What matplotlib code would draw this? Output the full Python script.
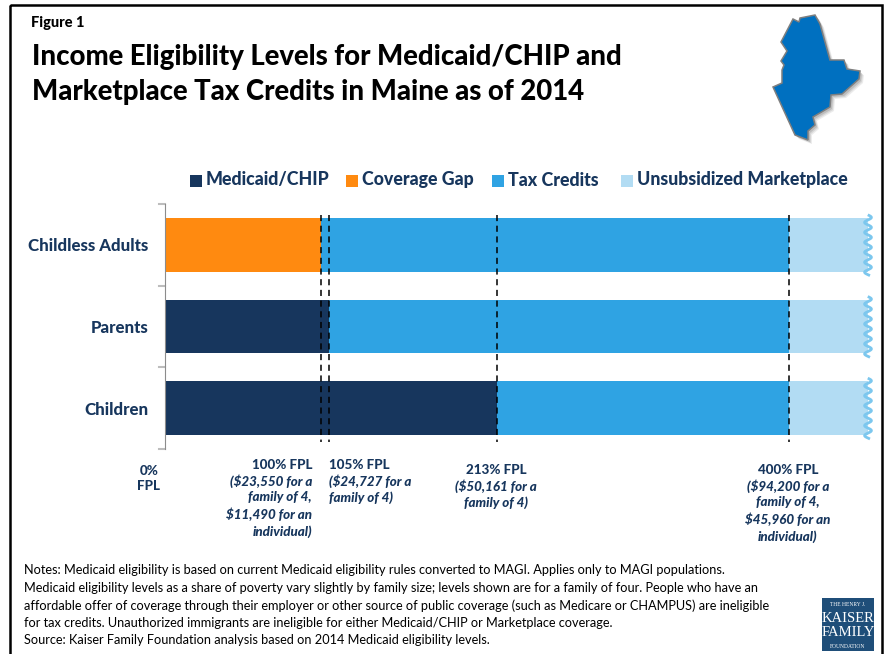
import numpy as np
import matplotlib
matplotlib.use('Agg')
import matplotlib.pyplot as plt
from matplotlib.patches import Polygon, Rectangle

plt.rcParams['font.family'] = ['Lato', 'DejaVu Sans']

W, H = 884, 654
NAVY = '#17365d'
HEAVY = 900

categories = ['Childless Adults', 'Parents', 'Children']
medicaid = [0, 105, 213]
gap = [100, 0, 0]
tax_credits = [300, 295, 187]
unsubsidized = [51, 51, 51]
series_names = ['Medicaid/CHIP', 'Coverage Gap', 'Tax Credits', 'Unsubsidized Marketplace']
series_colors = ['#17365d', '#ff8a10', '#2fa3e3', '#b2dcf3']

fpl_marks = [100, 105, 213, 400]
fpl_labels = ['100% FPL', '105% FPL', '213% FPL', '400% FPL']
fpl_notes = ['($23,550 for a\nfamily of 4,\n$11,490 for an\nindividual)',
             '($24,727 for a\nfamily of 4)',
             '($50,161 for a\nfamily of 4)',
             '($94,200 for a\nfamily of 4,\n$45,960 for an\nindividual)']
note_lines = [
    'Notes: Medicaid eligibility is based on current Medicaid eligibility rules converted to MAGI. Applies only to MAGI populations.',
    'Medicaid eligibility levels as a share of poverty vary slightly by family size; levels shown are for a family of four. People who have an',
    'affordable offer of coverage through their employer or other source of public coverage (such as Medicare or CHAMPUS) are ineligible',
    'for tax credits. Unauthorized immigrants are ineligible for either Medicaid/CHIP or Marketplace coverage.',
    'Source: Kaiser Family Foundation analysis based on 2014 Medicaid eligibility levels.',
]

# outline of the state, in picture pixels
maine_x = [793, 799, 800, 815, 820, 830, 844, 847, 860, 859, 842, 831, 830, 813, 815, 808, 808, 795, 773, 782, 782, 784, 781, 787, 781]
maine_y = [19, 22, 18, 15, 24, 60, 60, 69, 71, 79, 94, 95, 107, 117, 125, 131, 140, 135, 87, 83, 70, 65, 61, 51, 42]

fig = plt.figure(figsize=(W / 100, H / 100), dpi=100, facecolor='white')

# overlay in pixel coords for the furniture
bg = fig.add_axes([0, 0, 1, 1])
bg.set_xlim(0, W)
bg.set_ylim(H, 0)
bg.axis('off')

bg.add_patch(Rectangle((9.5, 5), 872.5, 660, fill=False, ec='black', lw=1.8))

bg.text(31, 23, 'Figure 1', fontsize=10.5, fontweight=HEAVY, va='center', color='black')
bg.text(32, 57, 'Income Eligibility Levels for Medicaid/CHIP and', fontsize=19.8, fontweight=HEAVY, va='center', color='black')
bg.text(32, 92, 'Marketplace Tax Credits in Maine as of 2014', fontsize=19.8, fontweight=HEAVY, va='center', color='black')

maine = np.column_stack([maine_x, maine_y])
# soft shadow from a few see-through copies
for off, a in zip([4, 3, 2], [0.15, 0.2, 0.3]):
    bg.add_patch(Polygon(maine + [off, off], fc='#808080', ec='none', alpha=a))
bg.add_patch(Polygon(maine, fc='#0070c0', ec='#7f7f7f', lw=1.1))

# legend drawn by hand, the spacing is not even
legend_x = [190, 346, 492, 621]
for x0, name, col in zip(legend_x, series_names, series_colors):
    bg.add_patch(Rectangle((x0, 175), 11.5, 11.5, fc=col, ec='none'))
    bg.text(x0 + 16, 180, name, fontsize=12.8, fontweight=HEAVY, va='center', color=NAVY)

for i, line in enumerate(note_lines):
    bg.text(24, 570.5 + i * 17.5, line, fontsize=9.2, va='center', color='black')

# kaiser logo
bg.add_patch(Rectangle((822, 598), 52, 53, fc='#1f4e79', ec='none'))
logo_lines = [('THE HENRY J.', 4, 604), ('KAISER', 10.5, 619), ('FAMILY', 10.5, 633), ('FOUNDATION', 4, 646)]
for txt, size, y in logo_lines:
    bg.text(848, y, txt, fontsize=size, color='white', ha='center', va='center', family='Liberation Serif')

# main bars
ax = fig.add_axes([165 / W, 1 - 449 / H, (868 - 165) / W, (449 - 204) / H])
ax.patch.set_alpha(0)
y = np.arange(len(categories))
left = np.zeros(3)
for vals, col, name in zip([medicaid, gap, tax_credits, unsubsidized], series_colors, series_names):
    ax.barh(y, vals, left=left, height=0.66, color=col, label=name)
    left += np.array(vals)

ax.set_xlim(0, 451)
ax.set_ylim(2.5, -0.5)
ax.set_yticks(y)
ax.set_yticklabels(categories, fontsize=12.1, fontweight=HEAVY, color=NAVY)
ax.tick_params(axis='y', length=0, pad=12)
ax.set_xticks([])
for s in ['top', 'right', 'bottom']:
    ax.spines[s].set_visible(False)
ax.spines['left'].set_color('#8c8c8c')
for b in [-0.5, 0.5, 1.5, 2.5]:
    ax.plot([-0.008, 0], [b, b], transform=ax.get_yaxis_transform(), color='#bdbdbd', lw=1.5, clip_on=False)

# torn right edge of the bars
for yc in y:
    yy = np.linspace(yc - 0.36, yc + 0.37, 120)
    ax.plot(451 + 2.2 * np.sin((yy - yc) * 2 * np.pi * 8.2), yy, color='#7cc7ee', lw=2, clip_on=False)

for m in fpl_marks:
    ax.plot([m, m], [-0.36, 2.42], color='black', lw=1.1, ls=(0, (4, 3)), clip_on=False)

bg.text(149, 478.5, '0%\nFPL', fontsize=9.6, fontweight=HEAVY, color=NAVY, ha='center', va='center', linespacing=1.35)
label_x = [312, 329, 496, 788]
label_top = [465, 465, 470, 470]
label_ha = ['right', 'left', 'center', 'center']
for x0, top, ha, lab, note in zip(label_x, label_top, label_ha, fpl_labels, fpl_notes):
    bg.text(x0, top, lab, fontsize=9.6, fontweight=HEAVY, color=NAVY, ha=ha, va='center')
    bg.text(x0, top + 9, note, fontsize=9.6, fontweight=HEAVY, style='italic', color=NAVY,
            ha=ha, va='top', linespacing=1.38, multialignment=ha)

fig.savefig('out.png', dpi=100)
